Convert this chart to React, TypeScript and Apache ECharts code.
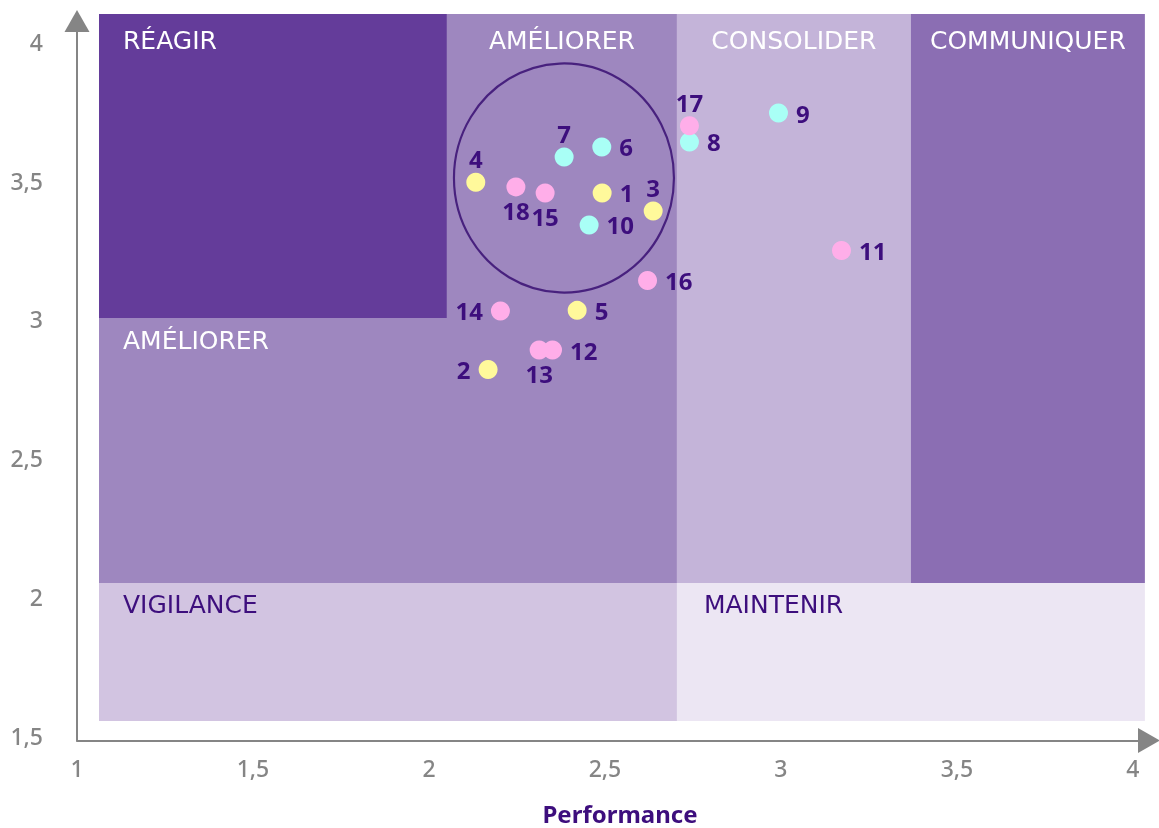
import React, { useEffect, useRef } from 'react';
import * as echarts from 'echarts';

// Points
const pointIds = ['1', '2', '3', '4', '5', '6', '7', '8', '9', '10', '11', '12', '13', '14', '15', '16', '17', '18'];
const performance = [2.492, 2.168, 2.637, 2.133, 2.421, 2.491, 2.384, 2.74, 2.993, 2.455, 3.172, 2.351, 2.313, 2.203, 2.33, 2.621, 2.74, 2.247];
const importance = [3.455, 2.819, 3.39, 3.494, 3.032, 3.621, 3.585, 3.639, 3.743, 3.34, 3.248, 2.889, 2.889, 3.03, 3.455, 3.14, 3.697, 3.477];
const pointGroup = ['Y', 'Y', 'Y', 'Y', 'Y', 'C', 'C', 'C', 'C', 'C', 'P', 'P', 'P', 'P', 'P', 'P', 'P', 'P'];
const labelPos = ['right', 'left', 'top', 'top', 'right', 'right', 'top', 'right', 'right', 'right', 'right', 'right', 'bottom', 'left', 'bottom', 'right', 'top', 'bottom'];

const groupKeys = ['Y', 'C', 'P'];
const groupColors = ['#FFF99B', '#A9FFF6', '#FFAEE9'];

// Highlight ellipse
const ellipseCenter = [2.3835, 3.509];

// Regions
const regionNames = ['RÉAGIR', 'AMÉLIORER', 'AMÉLIORER', 'CONSOLIDER', 'COMMUNIQUER', 'VIGILANCE', 'MAINTENIR'];
const regionX0 = [1.0625, 2.051, 1.0625, 2.7045, 3.369, 1.0625, 2.7045];
const regionX1 = [2.051, 2.7045, 2.7045, 3.369, 4.034, 2.7045, 4.034];
const regionY0 = [3.0045, 3.0045, 2.05, 2.05, 2.05, 1.5523, 1.5523];
const regionY1 = [4.1, 4.1, 3.0045, 4.1, 4.1, 2.05, 2.05];
const regionColors = ['#643C9A', '#9E87BF', '#9E87BF', '#C4B4D9', '#8B6EB3', '#D2C4E1', '#ECE6F3'];
const regionTextColors = ['#FFFFFF', '#FFFFFF', '#FFFFFF', '#FFFFFF', '#FFFFFF', '#3D0E7D', '#3D0E7D'];
const regionAlign = ['left', 'center', 'left', 'center', 'center', 'left', 'left'];

const xTicks = [1, 1.5, 2, 2.5, 3, 3.5, 4];
const yTicks = [1.5, 2, 2.5, 3, 3.5, 4];
const xAxisTitle = 'Performance';

const DARK = '#3D0E7D';
const GREY = '#858585';

const fmt = (v: number) => String(v).replace('.', ',');

export default function App() {
  const ref = useRef<HTMLDivElement>(null);
  useEffect(() => {
    const chart = echarts.init(ref.current!, null, { renderer: 'svg' });

    const areaData = regionNames.map((name, i) => {
      const isLeft = regionAlign[i] === 'left';
      const topRow = regionY1[i] > 4;
      return [
        {
          name,
          xAxis: regionX0[i],
          yAxis: regionY1[i],
          itemStyle: { color: regionColors[i], opacity: 1 },
          label: {
            show: true,
            position: isLeft ? 'insideTopLeft' : 'insideTop',
            distance: 0,
            align: isLeft ? 'left' : 'center',
            verticalAlign: 'middle',
            offset: [isLeft ? (regionX0[i] > 2.5 ? 27 : 24) : 0, topRow ? 26 : 22],
            color: regionTextColors[i],
            fontFamily: 'DejaVu Sans',
            fontSize: 25,
            fontWeight: 'normal',
          },
        },
        { xAxis: regionX1[i], yAxis: regionY0[i] },
      ];
    });

    const pointSeries = groupKeys.map((g, gi) => ({
      type: 'scatter',
      name: g,
      z: 5,
      symbol: 'circle',
      symbolSize: 19,
      itemStyle: { color: groupColors[gi], opacity: 1 },
      label: {
        show: true,
        formatter: '{b}',
        color: DARK,
        fontFamily: 'Noto Sans',
        fontWeight: 'bold',
        fontSize: 24,
      },
      data: pointIds
        .map((id, i) => ({ id, i }))
        .filter((d) => pointGroup[d.i] === g)
        .map(({ id, i }) => ({
          name: id,
          value: [performance[i], importance[i]],
          label: {
            position: labelPos[i],
            distance: labelPos[i] === 'right' || labelPos[i] === 'left' ? 8 : 2,
          },
        })),
    }));

    const option = {
      animation: false,
      grid: { left: 77, right: 12, top: 14, bottom: 87.5, containLabel: false, outerBoundsMode: 'none' },
      graphic: [
        {
          type: 'text',
          x: 620,
          y: 813,
          silent: true,
          style: {
            text: xAxisTitle,
            fill: DARK,
            font: 'bold 24px "Noto Sans"',
            textAlign: 'center',
            textVerticalAlign: 'middle',
          },
        },
      ],
      xAxis: {
        type: 'value',
        min: 1,
        max: 4.04,
        splitLine: { show: false },
        axisTick: { show: false },
        axisLine: {
          show: true,
          lineStyle: { color: GREY, width: 2 },
          symbol: ['none', 'triangle'],
          symbolSize: [25, 22],
          symbolOffset: [0, 2],
        },
        axisLabel: {
          customValues: xTicks,
          formatter: fmt,
          color: GREY,
          fontFamily: 'Noto Sans',
          fontWeight: 500,
          fontSize: 23,
          margin: 16,
        },
      },
      yAxis: {
        type: 'value',
        min: 1.482,
        max: 4.1,
        splitLine: { show: false },
        axisTick: { show: false },
        axisLine: {
          show: true,
          lineStyle: { color: GREY, width: 2 },
          symbol: ['none', 'triangle'],
          symbolSize: [25, 22],
          symbolOffset: [0, -7],
        },
        axisLabel: {
          customValues: yTicks,
          formatter: fmt,
          color: GREY,
          fontFamily: 'Noto Sans',
          fontWeight: 500,
          fontSize: 23,
          margin: 34,
        },
      },
      series: [
        {
          type: 'scatter',
          name: 'regions',
          z: 1,
          data: [],
          silent: true,
          markArea: { silent: true, data: areaData },
        },
        {
          type: 'scatter',
          name: 'focus',
          z: 3,
          silent: true,
          symbol: 'circle',
          symbolSize: [220, 229],
          itemStyle: { color: 'rgba(0,0,0,0)', borderColor: '#32086E', borderWidth: 2.2 },
          data: [ellipseCenter],
        },
        ...pointSeries,
      ],
    };

    chart.setOption(option as any);
    return () => chart.dispose();
  }, []);

  return <div ref={ref} style={{ position: 'fixed', left: 0, top: 0, width: 1159, height: 828 }} />;
}
